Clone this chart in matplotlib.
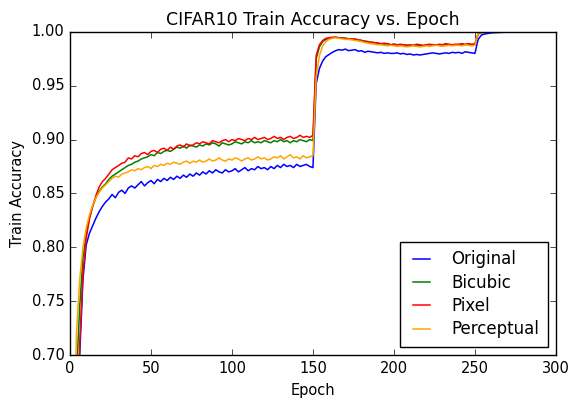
import numpy as np
import matplotlib
matplotlib.use('Agg')
import matplotlib.pyplot as plt


# epochs sampled every 2 epochs, 0 .. 300
EPOCHS = list(range(0, 301, 2))

ORIGINAL = [
    0.300, 0.450, 0.600, 0.700, 0.770, 0.802, 0.813, 0.820, 0.827, 0.833,
    0.838, 0.842, 0.845, 0.849, 0.846, 0.851, 0.853, 0.850, 0.855, 0.857,
    0.855, 0.858, 0.861, 0.857, 0.860, 0.862, 0.859, 0.863, 0.861, 0.864,
    0.862, 0.865, 0.863, 0.866, 0.864, 0.867, 0.865, 0.868, 0.866, 0.869,
    0.867, 0.870, 0.868, 0.871, 0.869, 0.872, 0.870, 0.869, 0.872, 0.870,
    0.871, 0.873, 0.870, 0.872, 0.874, 0.871, 0.873, 0.872, 0.875, 0.873,
    0.874, 0.872, 0.875, 0.873, 0.876, 0.874, 0.877, 0.875, 0.876, 0.874,
    0.877, 0.875, 0.876, 0.877, 0.875, 0.874, 0.952, 0.966, 0.973, 0.977,
    0.979, 0.981, 0.9825, 0.9835, 0.983, 0.984, 0.9825, 0.983, 0.9835, 0.982,
    0.9825, 0.981, 0.982, 0.9815, 0.981, 0.9805, 0.981, 0.980, 0.9805, 0.980,
    0.980, 0.9805, 0.9795, 0.980, 0.979, 0.9795, 0.9785, 0.979, 0.9785, 0.979,
    0.9795, 0.980, 0.9805, 0.980, 0.9795, 0.980, 0.9805, 0.980, 0.981, 0.9805,
    0.981, 0.980, 0.9815, 0.981, 0.9805, 0.980, 0.993, 0.997, 0.998, 0.9985,
    0.999, 0.9992, 0.9994, 0.9995, 0.9996, 0.9996, 0.9997, 0.9997, 0.9998, 0.9998,
    0.9998, 0.9998, 0.9999, 0.9999, 0.9999, 0.9999, 0.9999, 0.9999, 0.9999, 0.9999,
    0.9999,
]

BICUBIC = [
    0.350, 0.520, 0.680, 0.745, 0.790, 0.812, 0.828, 0.838, 0.846, 0.852,
    0.856, 0.859, 0.863, 0.866, 0.868, 0.870, 0.872, 0.874, 0.876, 0.877,
    0.879, 0.880, 0.882, 0.883, 0.884, 0.886, 0.885, 0.888, 0.887, 0.889,
    0.890, 0.889, 0.891, 0.893, 0.892, 0.894, 0.892, 0.895, 0.894, 0.893,
    0.895, 0.894, 0.896, 0.895, 0.897, 0.896, 0.894, 0.897, 0.896, 0.895,
    0.896, 0.898, 0.897, 0.896, 0.898, 0.897, 0.899, 0.897, 0.898, 0.897,
    0.899, 0.898, 0.897, 0.899, 0.898, 0.900, 0.898, 0.899, 0.897, 0.899,
    0.898, 0.900, 0.899, 0.898, 0.900, 0.899, 0.975, 0.986, 0.991, 0.993,
    0.994, 0.9945, 0.995, 0.9945, 0.9945, 0.994, 0.9935, 0.9935, 0.993, 0.9925,
    0.992, 0.9915, 0.991, 0.990, 0.990, 0.9895, 0.989, 0.9885, 0.989, 0.988,
    0.9885, 0.988, 0.9875, 0.988, 0.9875, 0.987, 0.9875, 0.987, 0.9875, 0.987,
    0.9875, 0.988, 0.9875, 0.988, 0.9875, 0.988, 0.9885, 0.988, 0.9875, 0.988,
    0.988, 0.9885, 0.988, 0.9885, 0.988, 0.988, 0.998, 0.9993, 0.9996, 0.9997,
    0.9998, 0.9998, 0.9998, 0.9998, 0.9999, 0.9999, 0.9999, 0.9999, 0.9999, 0.9999,
    0.9999, 0.9999, 0.9999, 0.9999, 0.9999, 0.9999, 0.9999, 0.9999, 0.9999, 0.9999,
    0.9999,
]

PIXEL = [
    0.300, 0.420, 0.550, 0.710, 0.775, 0.808, 0.826, 0.838, 0.848, 0.856,
    0.861, 0.864, 0.868, 0.872, 0.874, 0.876, 0.878, 0.879, 0.883, 0.882,
    0.885, 0.884, 0.887, 0.888, 0.886, 0.889, 0.890, 0.888, 0.891, 0.892,
    0.890, 0.893, 0.891, 0.894, 0.895, 0.893, 0.896, 0.894, 0.895, 0.897,
    0.896, 0.898, 0.897, 0.896, 0.899, 0.898, 0.897, 0.899, 0.900, 0.898,
    0.900, 0.899, 0.901, 0.900, 0.899, 0.901, 0.900, 0.902, 0.900, 0.901,
    0.902, 0.900, 0.901, 0.903, 0.901, 0.902, 0.900, 0.902, 0.903, 0.901,
    0.902, 0.904, 0.902, 0.903, 0.902, 0.904, 0.978, 0.988, 0.992, 0.994,
    0.9945, 0.995, 0.995, 0.9945, 0.994, 0.994, 0.9935, 0.993, 0.9935, 0.9925,
    0.992, 0.991, 0.9905, 0.9905, 0.990, 0.9895, 0.989, 0.9895, 0.989, 0.988,
    0.9885, 0.988, 0.9885, 0.988, 0.9875, 0.988, 0.9875, 0.9885, 0.988, 0.9875,
    0.988, 0.9885, 0.988, 0.9875, 0.9885, 0.988, 0.989, 0.9885, 0.988, 0.9885,
    0.9885, 0.989, 0.9885, 0.989, 0.9885, 0.989, 0.9985, 0.9994, 0.9996, 0.9997,
    0.9998, 0.9998, 0.9998, 0.9998, 0.9999, 0.9999, 0.9999, 0.9999, 0.9999, 0.9999,
    0.9999, 0.9999, 0.9999, 0.9999, 0.9999, 0.9999, 0.9999, 0.9999, 0.9999, 0.9999,
    0.9999,
]

PERCEPTUAL = [
    0.400, 0.600, 0.720, 0.770, 0.800, 0.818, 0.830, 0.839, 0.846, 0.851,
    0.855, 0.858, 0.861, 0.864, 0.866, 0.865, 0.868, 0.869, 0.870, 0.872,
    0.871, 0.873, 0.872, 0.874, 0.875, 0.873, 0.876, 0.875, 0.877, 0.876,
    0.878, 0.877, 0.879, 0.878, 0.877, 0.879, 0.880, 0.878, 0.880, 0.879,
    0.881, 0.879, 0.880, 0.882, 0.880, 0.881, 0.883, 0.881, 0.880, 0.882,
    0.881, 0.883, 0.882, 0.880, 0.882, 0.883, 0.881, 0.882, 0.884, 0.882,
    0.883, 0.881, 0.882, 0.884, 0.883, 0.885, 0.882, 0.884, 0.886, 0.883,
    0.884, 0.882, 0.885, 0.883, 0.884, 0.885, 0.958, 0.978, 0.987, 0.991,
    0.993, 0.994, 0.9945, 0.994, 0.9935, 0.993, 0.993, 0.9925, 0.992, 0.9915,
    0.991, 0.990, 0.9895, 0.989, 0.9885, 0.988, 0.988, 0.9875, 0.987, 0.9875,
    0.987, 0.9865, 0.987, 0.9865, 0.986, 0.9865, 0.987, 0.9865, 0.986, 0.9865,
    0.987, 0.9865, 0.987, 0.9875, 0.987, 0.9865, 0.987, 0.9875, 0.987, 0.9875,
    0.9875, 0.987, 0.988, 0.9875, 0.987, 0.9875, 0.9988, 0.9995, 0.9997, 0.9998,
    0.9998, 0.9998, 0.9999, 0.9999, 0.9999, 0.9999, 0.9999, 0.9999, 0.9999, 0.9999,
    0.9999, 0.9999, 0.9999, 0.9999, 0.9999, 0.9999, 0.9999, 0.9999, 0.9999, 0.9999,
    0.9999,
]

SERIES = [
    ('Original', ORIGINAL, '#0000ff'),
    ('Bicubic', BICUBIC, '#008000'),
    ('Pixel', PIXEL, '#ff0000'),
    ('Perceptual', PERCEPTUAL, '#ffa500'),
]


def main() -> None:
    plt.style.use('classic')
    plt.rcParams['font.family'] = ['DejaVu Sans']
    plt.rcParams['font.size'] = 10.5

    fig = plt.figure(figsize=(5.69, 3.98), dpi=100, facecolor='white')
    ax = fig.add_axes([0.123, 0.108, 0.854, 0.812])

    for label, values, color in SERIES:
        ax.plot(EPOCHS, values, color=color, linewidth=1.1, label=label)

    ax.set_xlim(0, 300)
    ax.set_ylim(0.70, 1.00)
    ax.set_xticks(np.arange(0, 301, 50))
    ax.set_yticks(np.arange(0.70, 1.001, 0.05))
    ax.set_yticklabels([f'{v:.2f}' for v in np.arange(0.70, 1.001, 0.05)])
    ax.set_title('CIFAR10 Train Accuracy vs. Epoch', fontsize=12.5)
    ax.set_xlabel('Epoch', fontsize=10.5)
    ax.set_ylabel('Train Accuracy', fontsize=10.5)
    ax.legend(loc='lower right', fontsize=12, labelspacing=0.32,
              handlelength=1.6, handletextpad=1.0, borderpad=0.5)

    fig.savefig('out.png', dpi=100, facecolor='white')
    plt.close(fig)


if __name__ == '__main__':
    main()
